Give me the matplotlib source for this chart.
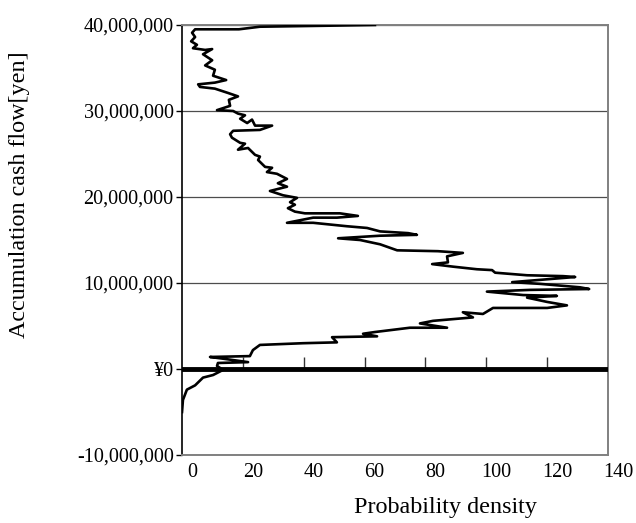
"""
Distribution of accumulated cash flow (probability density vs. yen).
"""

import matplotlib
matplotlib.use("Agg")
import matplotlib.pyplot as plt
import matplotlib.transforms as mtransforms

# Curve, from the top of the range down
DENSITY = [
    63.4, 45.4, 25.6, 18.7, 4.3, 3.3, 4.3, 3.0, 4.9, 3.6,
    7.6, 9.9, 6.9, 9.9, 7.6, 10.8, 10.2, 14.5, 10.8, 5.3,
    5.9, 10.8, 15.1, 18.4, 15.4, 15.8, 11.5, 16.8, 18.4, 20.7,
    19.1, 21.4, 23.0, 24.0, 29.6, 25.6, 16.8, 15.8, 16.4, 19.1,
    20.7, 18.4, 21.7, 24.0, 25.6, 25.0, 27.3, 29.6, 27.9, 31.2,
    34.5, 31.5, 34.5, 28.9, 33.2, 37.8, 35.5, 37.1, 34.8, 37.1,
    40.4, 51.9, 57.8, 50.9, 43.1, 34.5, 43.1, 54.2, 60.8, 65.1,
    74.3, 77.2, 65.1, 51.3, 58.5, 65.1, 70.7, 84.1, 92.3, 87.1,
    87.4, 82.2, 89.1, 96.9, 101.9, 102.9, 113.4, 125.2, 129.2, 115.4,
    108.5, 117.7, 130.8, 133.8, 114.4, 100.2, 112.1, 123.2, 113.4, 120.0,
    126.5, 120.0, 102.2, 98.9, 92.3, 95.6, 82.5, 78.2, 87.1, 74.9,
    63.4, 59.5, 64.1, 49.3, 50.9, 39.8, 25.6, 23.3, 22.3, 9.2,
    13.5, 21.7, 11.8, 11.5, 13.5, 10.2, 6.9, 4.3, 1.6, 0.3,
    0.0,
]
CASH_MYEN = [
    40.0, 39.9, 39.8, 39.5, 39.5, 39.1, 38.6, 38.1, 37.7, 37.3,
    37.1, 37.2, 36.6, 35.9, 35.3, 34.8, 34.1, 33.6, 33.3, 33.1,
    32.8, 32.6, 32.1, 31.7, 31.3, 30.6, 30.1, 30.0, 29.7, 29.5,
    29.1, 28.6, 29.0, 28.3, 28.3, 27.8, 27.7, 27.3, 26.9, 26.3,
    26.2, 25.5, 25.7, 24.9, 24.7, 24.3, 23.5, 23.4, 22.9, 22.7,
    22.1, 21.6, 21.2, 20.7, 20.2, 19.9, 19.4, 19.1, 18.7, 18.3,
    18.1, 18.1, 17.8, 17.6, 17.6, 17.0, 17.0, 16.6, 16.4, 16.0,
    15.8, 15.6, 15.5, 15.2, 15.0, 14.5, 13.8, 13.7, 13.5, 13.1,
    12.4, 12.2, 11.9, 11.6, 11.5, 11.2, 10.9, 10.8, 10.7, 10.3,
    10.1, 9.9, 9.5, 9.3, 9.2, 9.0, 8.6, 8.5, 8.3, 7.8,
    7.4, 7.1, 7.1, 6.4, 6.6, 6.0, 5.6, 5.3, 4.8, 4.8,
    4.3, 4.1, 3.8, 3.7, 3.1, 3.0, 2.8, 2.2, 1.5, 1.4,
    1.2, 0.8, 0.7, 0.35, -0.1, -0.7, -1.0, -1.9, -2.4, -3.6,
    -5.0,
]

X_TICKS = [0, 20, 40, 60, 80, 100, 120, 140]
Y_TICKS = [-10e6, 0, 10e6, 20e6, 30e6, 40e6]
Y_LABELS = ["-10,000,000", "¥0", "10,000,000", "20,000,000", "30,000,000", "40,000,000"]

FONT = "Liberation Serif"
FS = 14.5
LABEL_FS = 17.4
GREY = "#808080"


def main():
    plt.rcParams["font.family"] = [FONT, "DejaVu Sans"]
    fig = plt.figure(figsize=(6.36, 5.23), dpi=100)
    ax = fig.add_axes([0.2862, 0.1300, 0.6698, 0.8222])

    cash = [c * 1e6 for c in CASH_MYEN]
    ax.plot(DENSITY, cash, color="black", lw=1.9, solid_joinstyle="round", zorder=3)

    ax.set_xlim(0, 140)
    ax.set_ylim(-10e6, 40e6)

    # y axis
    ax.set_yticks(Y_TICKS)
    ax.set_yticklabels(Y_LABELS, fontsize=FS)
    ax.tick_params(axis="y", direction="out", length=4, width=1, pad=2, color="black")
    ax.yaxis.grid(True, color="#4d4d4d", lw=0.9)
    ax.set_axisbelow(True)

    # x labels at the bottom, shifted a little right like the original
    ax.set_xticks(X_TICKS)
    ax.set_xticklabels([str(v) for v in X_TICKS], fontsize=FS)
    ax.tick_params(axis="x", length=0, pad=6)
    offset = mtransforms.ScaledTranslation(10 / 100, 0, fig.dpi_scale_trans)
    for lab in ax.get_xticklabels():
        lab.set_transform(lab.get_transform() + offset)

    for side in ["top", "right", "bottom"]:
        ax.spines[side].set_color(GREY)
        ax.spines[side].set_linewidth(1.4)
    ax.spines["left"].set_color("black")
    ax.spines["left"].set_linewidth(1.2)

    # thick zero line with short tick marks pointing up
    ax.axhline(0, color="black", lw=3.5, zorder=4)
    tick_len = 1.4e6
    ax.vlines(X_TICKS[1:], 0, tick_len, color="#333333", lw=1, zorder=2)

    fig.text(0.031, 1 - 195 / 523, "Accumulation cash flow[yen]", rotation=90,
             ha="center", va="center", fontsize=LABEL_FS)
    fig.text(445 / 636, 1 - 508 / 523, "Probability density",
             ha="center", va="center", fontsize=LABEL_FS)

    fig.savefig("out.png", dpi=100)


if __name__ == "__main__":
    main()
